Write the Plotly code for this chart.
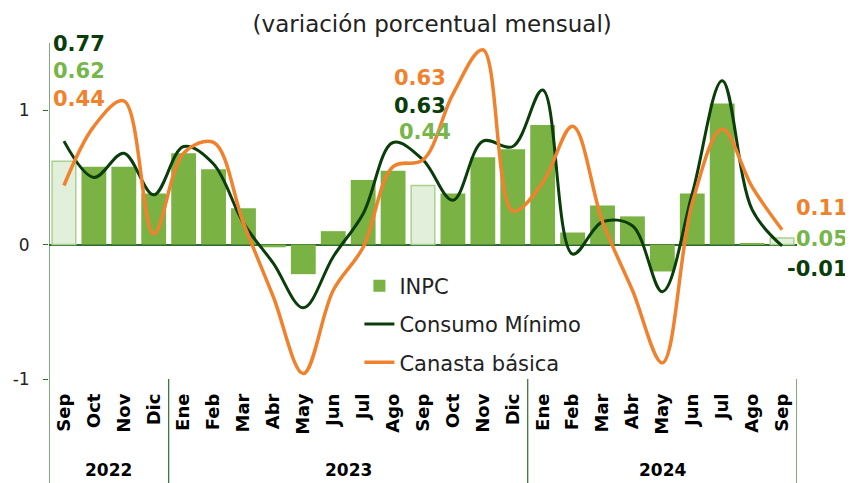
import plotly.graph_objects as go

# ---------------- data ----------------
months = ["Sep", "Oct", "Nov", "Dic", "Ene", "Feb", "Mar", "Abr", "May", "Jun", "Jul", "Ago",
          "Sep", "Oct", "Nov", "Dic", "Ene", "Feb", "Mar", "Abr", "May", "Jun", "Jul", "Ago", "Sep"]
years = ["2022", "2023", "2024"]
year_spans = [(0, 3), (4, 15), (16, 24)]  # first / last month index of each year
inpc = [0.62, 0.58, 0.58, 0.38, 0.68, 0.56, 0.27, -0.02, -0.22, 0.10, 0.48, 0.55,
        0.44, 0.38, 0.65, 0.71, 0.89, 0.09, 0.29, 0.21, -0.20, 0.38, 1.05, 0.01, 0.05]
consumo_minimo = [0.77, 0.50, 0.68, 0.37, 0.73, 0.60, 0.16, -0.14, -0.47, -0.09, 0.23, 0.76,
                  0.63, 0.33, 0.77, 0.73, 1.15, -0.07, 0.17, 0.14, -0.35, 0.38, 1.22, 0.26, -0.01]
canasta_basica = [0.44, 0.88, 1.07, 0.08, 0.68, 0.76, 0.16, -0.39, -0.96, -0.34, -0.02, 0.58,
                  0.63, 1.12, 1.45, 0.25, 0.46, 0.88, 0.17, -0.34, -0.88, 0.31, 0.86, 0.43, 0.11]
labelled_idx = [0, 12, 24]  # September of each year (highlighted bars with value labels)
y_ticks = [-1, 0, 1]

# ---------------- styles ----------------
C_BAR = "#7AB243"
C_BAR_LIGHT = "#E2EFDA"
C_BAR_LIGHT_EDGE = "#A9D18E"
C_DARK = "#0A3D0A"
C_ORANGE = "#F0822D"
C_LABEL_GREEN = "#78B54A"
C_AXIS = "#2E6B2E"
FONT = "DejaVu Sans"
BAR_W = 0.83

x = list(range(len(months)))
main_x = [i for i in x if i not in labelled_idx]
main_y = [inpc[i] for i in main_x]
hl_x = labelled_idx
hl_y = [inpc[i] for i in hl_x]

fig = go.Figure()
fig.add_trace(go.Bar(x=main_x, y=main_y, name="INPC", width=BAR_W,
                     marker=dict(color=C_BAR, line=dict(width=0)), legendgroup="a"))
fig.add_trace(go.Bar(x=hl_x, y=hl_y, name="INPC", showlegend=False, width=BAR_W - 0.04,
                     marker=dict(color=C_BAR_LIGHT, line=dict(color=C_BAR_LIGHT_EDGE, width=1.5)),
                     legendgroup="a"))
fig.add_trace(go.Scatter(x=x, y=consumo_minimo, name="Consumo Mínimo", mode="lines",
                         line=dict(color=C_DARK, width=3, shape="spline", smoothing=1),
                         legendgroup="b"))
fig.add_trace(go.Scatter(x=x, y=canasta_basica, name="Canasta básica", mode="lines",
                         line=dict(color=C_ORANGE, width=3.5, shape="spline", smoothing=1),
                         legendgroup="c"))

# ---------------- value labels ----------------
ann = []
def fmt(v):
    return f"{v:.2f}"

# Sep 2022 (left, stacked)
i = labelled_idx[0]
for k, (val, col) in enumerate([(consumo_minimo[i], C_DARK), (inpc[i], C_LABEL_GREEN), (canasta_basica[i], C_ORANGE)]):
    ann.append(dict(x=-0.42, y=[1.49, 1.295, 1.08][k], xref="x", yref="y", text=f"<b>{fmt(val)}</b>",
                    showarrow=False, xanchor="left", yanchor="middle",
                    font=dict(family=FONT, size=21, color=col)))
# Sep 2023 (above)
i = labelled_idx[1]
for k, (val, col) in enumerate([(canasta_basica[i], C_ORANGE), (consumo_minimo[i], C_DARK), (inpc[i], C_LABEL_GREEN)]):
    ann.append(dict(x=[10.95, 10.98, 11.12][k], y=[1.24, 1.035, 0.84][k], xref="x", yref="y",
                    text=f"<b>{fmt(val)}</b>", showarrow=False, xanchor="left", yanchor="middle",
                    font=dict(family=FONT, size=21, color=col)))
# Sep 2024 (right, outside the plot area -> paper x)
i = labelled_idx[2]
for k, (val, col) in enumerate([(canasta_basica[i], C_ORANGE), (inpc[i], C_LABEL_GREEN), (consumo_minimo[i], C_DARK)]):
    ann.append(dict(x=1.0705, y=[0.27, 0.04, -0.185][k], xref="paper", yref="y",
                    text=f"<b>{fmt(val)}</b>", showarrow=False, xanchor="right", yanchor="middle",
                    font=dict(family=FONT, size=21, color=col)))

# year labels
for yr, (a, b) in zip(years, year_spans):
    ann.append(dict(x=(a + b) / 2, y=-0.272, xref="x", yref="paper", text=f"<b>{yr}</b>",
                    showarrow=False, xanchor="center", yanchor="middle",
                    font=dict(family=FONT, size=17, color="#000")))

# separators between years
shapes = []
for a, b in year_spans[1:]:
    shapes.append(dict(type="line", xref="x", yref="paper", x0=a - 0.5, x1=a - 0.5, y0=0, y1=-0.32,
                       line=dict(color=C_AXIS, width=1.2)))
shapes.append(dict(type="line", xref="x", yref="paper", x0=len(months) - 0.5, x1=len(months) - 0.5,
                   y0=0, y1=-0.32, line=dict(color=C_AXIS, width=1.2)))
shapes.append(dict(type="line", xref="x", yref="paper", x0=-0.5, x1=-0.5, y0=1, y1=-0.32,
                   line=dict(color=C_AXIS, width=1.2)))

# page body has an 8px default margin, so the figure is 845x475 drawn at (8, 8)
fig.update_layout(
    width=845, height=475,
    margin=dict(l=41, r=56, t=35, b=104, autoexpand=False),
    paper_bgcolor="white", plot_bgcolor="white",
    barmode="overlay",
    title=dict(text="(variación porcentual mensual)", x=0.502, xref="container", xanchor="center",
               y=0.984, yref="container", yanchor="top",
               font=dict(family=FONT, size=23, color="#222")),
    font=dict(family=FONT, color="#222"),
    showlegend=True,
    legend=dict(x=0.415, y=0.3375, xanchor="left", yanchor="top", bgcolor="rgba(0,0,0,0)",
                font=dict(family=FONT, size=21, color="#222"), tracegroupgap=8,
                traceorder="grouped", itemwidth=30),
    annotations=ann,
    shapes=shapes,
)
fig.update_xaxes(range=[-0.5, len(months) - 0.5], tickmode="array", tickvals=x,
                 ticktext=[f"<b>{m}</b>" for m in months], tickangle=-90,
                 tickfont=dict(family=FONT, size=18, color="#000"), showgrid=False,
                 showline=False, zeroline=False, ticks="", ticklabelstandoff=10, automargin=False)
fig.update_yaxes(range=[-1, 1.5], tickmode="array", tickvals=y_ticks, ticktext=[str(t) for t in y_ticks],
                 tickfont=dict(family=FONT, size=17, color="#222"), showgrid=False,
                 showline=False, zeroline=True, zerolinecolor=C_AXIS, zerolinewidth=1.5,
                 ticks="outside", ticklen=5, tickcolor=C_AXIS, ticklabelstandoff=10, automargin=False)

fig.write_html("out.html")
